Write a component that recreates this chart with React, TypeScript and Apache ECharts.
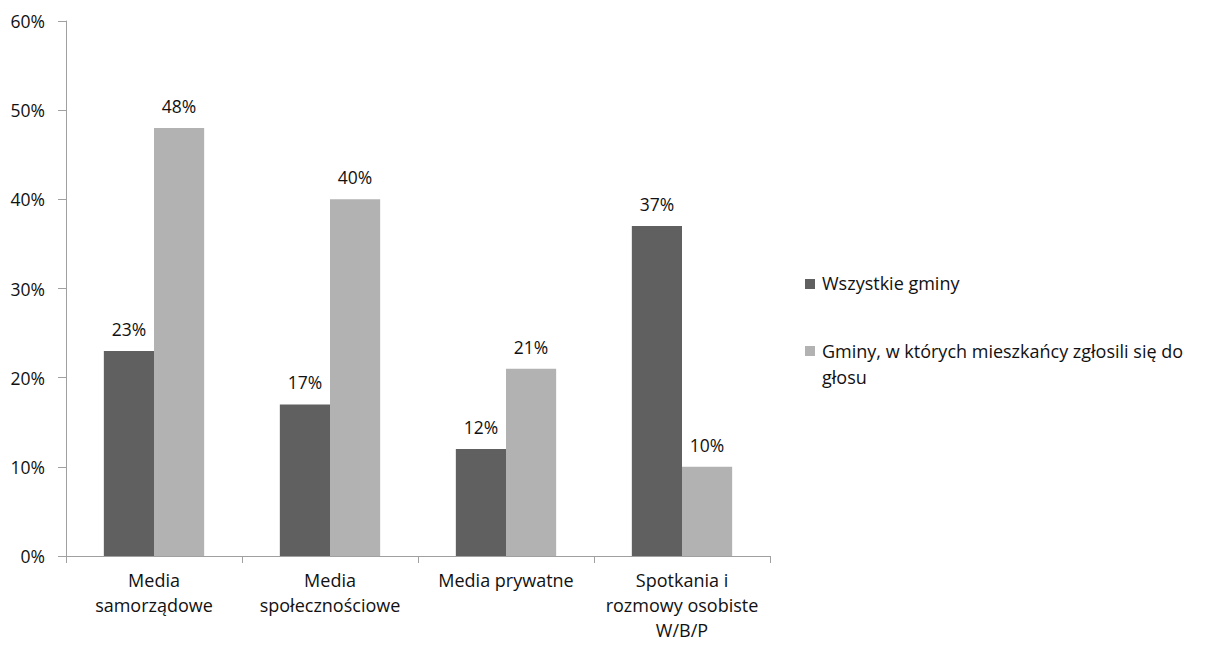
import React, { useEffect, useRef } from "react";
import * as echarts from "echarts";

const categories = [
  "Media\nsamorządowe",
  "Media\nspołecznościowe",
  "Media prywatne",
  "Spotkania i\nrozmowy osobiste\nW/B/P",
];
const seriesNames = [
  "Wszystkie gminy",
  "Gminy, w których mieszkańcy zgłosili się do\ngłosu",
];
const allMunicipalities = [23, 17, 12, 37];
const residentsSpoke = [48, 40, 21, 10];
const yTicks = [0, 10, 20, 30, 40, 50, 60];

const colors = ["#606060", "#b2b2b2"];
const FONT = "'Open Sans', sans-serif";
const TEXT = "#111111";
const FS = 18;

export default function App() {
  const ref = useRef<HTMLDivElement>(null);
  useEffect(() => {
    if (!ref.current) return;
    const chart = echarts.init(ref.current, undefined, { renderer: "svg" });
    const label = {
      show: true,
      position: "top" as const,
      distance: 13,
      formatter: "{c}%",
      fontSize: 17.5,
      fontFamily: FONT,
      color: TEXT,
    };
    chart.setOption({
      animation: false,
      backgroundColor: "#fff",
      textStyle: { fontFamily: FONT },
      grid: {
        left: 66,
        right: 440,
        top: 21,
        bottom: 90,
        containLabel: false,
        outerBoundsMode: "none",
      },
      xAxis: {
        type: "category",
        data: categories,
        axisLine: { lineStyle: { color: "#a0a0a0", width: 1 } },
        axisTick: { show: true, length: 7, lineStyle: { color: "#a0a0a0" } },
        axisLabel: {
          fontSize: FS,
          fontFamily: FONT,
          color: TEXT,
          lineHeight: 25,
          margin: 11,
          interval: 0,
        },
      },
      yAxis: {
        type: "value",
        min: yTicks[0],
        max: yTicks[yTicks.length - 1],
        interval: 10,
        axisLine: { show: true, lineStyle: { color: "#a0a0a0", width: 1 } },
        axisTick: { show: true, length: 8, lineStyle: { color: "#a0a0a0" } },
        splitLine: { show: false },
        axisLabel: {
          formatter: "{value}%",
          fontSize: 17.5,
          fontFamily: FONT,
          color: TEXT,
          margin: 21,
        },
      },
      series: [
        {
          name: seriesNames[0],
          type: "bar",
          data: allMunicipalities,
          itemStyle: { color: colors[0] },
          barGap: "0%",
          barCategoryGap: "43%",
          label,
        },
        {
          name: seriesNames[1],
          type: "bar",
          data: residentsSpoke,
          itemStyle: { color: colors[1] },
          barGap: "0%",
          barCategoryGap: "43%",
          label,
        },
      ],
      graphic: [
        { type: "rect", left: 805, top: 279, shape: { width: 10, height: 10 }, style: { fill: colors[0] } },
        {
          type: "text",
          left: 822,
          top: 274,
          style: { text: seriesNames[0], fontSize: FS, fontFamily: FONT, fill: TEXT },
        },
        { type: "rect", left: 805, top: 346, shape: { width: 10, height: 10 }, style: { fill: colors[1] } },
        {
          type: "text",
          left: 822,
          top: 338,
          style: { text: seriesNames[1], fontSize: FS, lineHeight: 26, fontFamily: FONT, fill: TEXT },
        },
      ],
    });
    return () => chart.dispose();
  }, []);
  return <div ref={ref} style={{ width: 1210, height: 646, margin: -8 }} />;
}
